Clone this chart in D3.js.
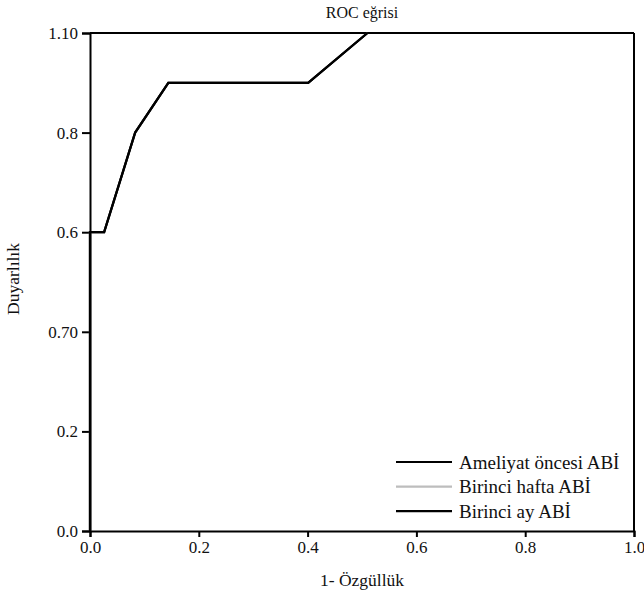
<!DOCTYPE html>
<html><head><meta charset="utf-8">
<script src="https://cdn.jsdelivr.net/npm/d3@7/dist/d3.min.js"></script>
<style>body{margin:0;background:#fff}svg{display:block}text{font-family:"Liberation Serif","Times New Roman",serif;fill:#111}</style>
</head><body><svg id="c" width="644" height="594"></svg>
<script>
const title = "ROC eğrisi";
const xLabel = "1- Özgüllük";
const yLabel = "Duyarlılık";
const xTickValues = [0, 0.2, 0.4, 0.6, 0.8, 1.0];
const xTickLabels = ["0.0", "0.2", "0.4", "0.6", "0.8", "1.0"];
const yTickValues = [0, 0.2, 0.4, 0.6, 0.8, 1.0];
const yTickLabels = ["0.0", "0.2", "0.70", "0.6", "0.8", "1.10"];
const seriesNames = ["Ameliyat öncesi ABİ", "Birinci hafta ABİ", "Birinci ay ABİ"];
const seriesColors = ["#000000", "#bdbdbd", "#000000"];
const fpr = [0, 0, 0.026, 0.083, 0.144, 0.401, 0.51];
const tpr = [0, 0.6, 0.6, 0.8, 0.9, 0.9, 1.0];

const svg = d3.select("#c");
const m = {l: 90, r: 10, t: 33, b: 63};
const W = 644, H = 594;
const x = d3.scaleLinear().domain([0, 1]).range([m.l, W - m.r]);
const y = d3.scaleLinear().domain([0, 1]).range([H - m.b, m.t]);

svg.append("line").attr("x1", x(0)).attr("x2", x(1)).attr("y1", y(1)).attr("y2", y(1)).attr("stroke", "#000").attr("stroke-width", 2);
svg.append("line").attr("x1", x(1)).attr("x2", x(1)).attr("y1", y(1)).attr("y2", y(0)).attr("stroke", "#000").attr("stroke-width", 2);

const xa = svg.append("g").attr("transform", `translate(0,${y(0)})`)
  .call(d3.axisBottom(x).tickValues(xTickValues).tickFormat((d, i) => xTickLabels[i]).tickSize(6).tickPadding(4));
const ya = svg.append("g").attr("transform", `translate(${x(0)},0)`)
  .call(d3.axisLeft(y).tickValues(yTickValues).tickFormat((d, i) => yTickLabels[i]).tickSize(8).tickPadding(4));
[xa, ya].forEach(g => {
  g.select(".domain").attr("stroke", "#000").attr("stroke-width", 2);
  g.selectAll(".tick line").attr("stroke", "#000").attr("stroke-width", 2);
  g.selectAll("text").style("font-family", '"Liberation Serif",serif').style("font-size", "17px").attr("fill", "#111");
});

const pts = fpr.map((d, i) => [d, tpr[i]]);
const line = d3.line().x(d => x(d[0])).y(d => y(d[1]));
[1, 2, 0].forEach(k => {
  svg.append("path").datum(pts).attr("d", line).attr("fill", "none")
    .attr("stroke", seriesColors[k]).attr("stroke-width", 2.2).attr("stroke-linejoin", "miter");
});

svg.append("text").attr("x", 362).attr("y", 18).attr("text-anchor", "middle").style("font-size", "16px").text(title);
svg.append("text").attr("x", 362).attr("y", 586).attr("text-anchor", "middle").style("font-size", "17.5px").text(xLabel);
svg.append("text").attr("transform", "translate(19,279) rotate(-90)").attr("text-anchor", "middle").style("font-size", "17.5px").text(yLabel);

const lg = svg.append("g");
seriesNames.forEach((n, i) => {
  const yy = 462 + i * 24.6;
  lg.append("line").attr("x1", 396).attr("x2", 452).attr("y1", yy).attr("y2", yy).attr("stroke", seriesColors[i]).attr("stroke-width", 2.2);
  lg.append("text").attr("x", 459).attr("y", yy + 6.5).style("font-size", "19px").text(n);
});
</script></body></html>
